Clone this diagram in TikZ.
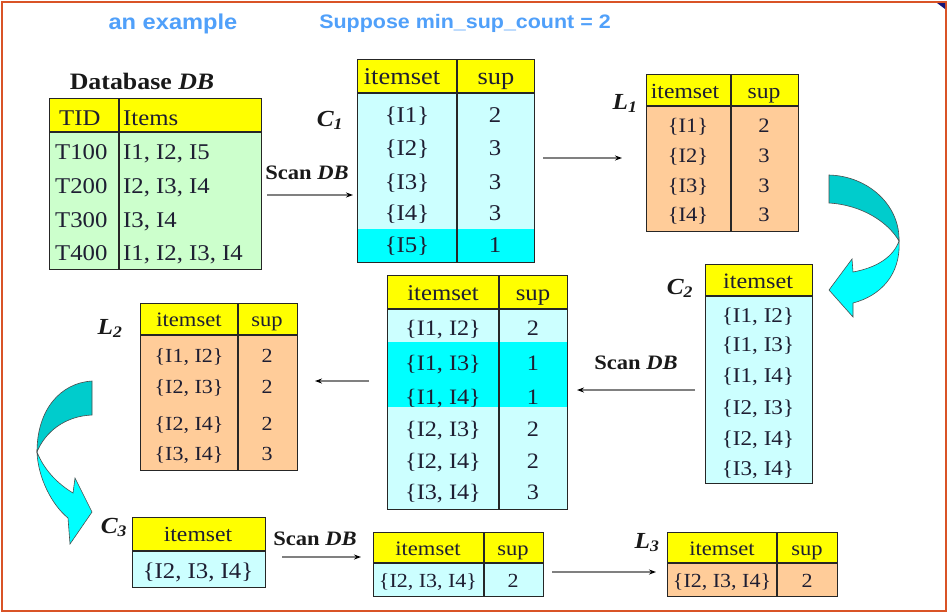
\documentclass[tikz,border=0pt]{standalone}
\usepackage{fontspec}
\setmainfont{Liberation Serif}
\newfontfamily\bluefont{Liberation Sans}
\usepackage{graphicx}
\usetikzlibrary{arrows.meta}
\definecolor{hdr}{RGB}{255,255,0}
\definecolor{dbg}{RGB}{204,255,204}
\definecolor{cbg}{RGB}{204,255,255}
\definecolor{hil}{RGB}{0,255,255}
\definecolor{lbg}{RGB}{255,204,153}
\definecolor{frameorange}{RGB}{217,83,38}
\definecolor{titleblue}{RGB}{80,160,250}
\definecolor{darkteal}{RGB}{0,204,204}
\definecolor{linegray}{RGB}{128,128,128}
\definecolor{txt}{RGB}{30,30,50}
\definecolor{navy}{RGB}{20,20,120}
\newcommand{\stx}[1]{\scalebox{1.1}[1]{#1}}
\tikzset{
  tframe/.style={draw=black!85, line width=1.3pt, inner sep=0pt, anchor=north west},
  tline/.style={draw=black!85, line width=1.1pt},
  cell/.style={font=\fontsize{#1}{#1}\selectfont, inner sep=0pt, anchor=mid, text=txt, yshift=-3pt},
  cell/.default=22,
  lcell/.style={cell=#1, anchor=mid west},
  lbl/.style={font=\fontsize{23}{26}\selectfont\bfseries\itshape, inner sep=0pt, anchor=base, text=black!90},
  scan/.style={font=\fontsize{20.5}{24}\selectfont\bfseries, inner sep=0pt, anchor=base, text=black!90},
  title/.style={font=\bluefont\bfseries\fontsize{#1}{#1}\selectfont, inner sep=0pt, anchor=base, text=titleblue},
  arr/.style={draw=linegray, line width=1.2pt, -{Stealth[color=black, length=7pt, width=5pt]}},
  curlback/.style={fill=darkteal, draw=black!70, line width=0.6pt},
  curlfront/.style={fill=hil, draw=black!70, line width=0.6pt},
}
\begin{document}
\begin{tikzpicture}[x=1pt,y=-1pt]
\useasboundingbox (0,0) rectangle (949,614);
\fill[white] (0,0) rectangle (949,614);
\draw[frameorange, line width=2.5pt] (2,2) rectangle (946,611);
\fill[navy] (937,3) -- (945,3) -- (945,9) -- cycle;

% titles
\node[title=21.5] (t1) at (173,29) {\stx{an example}};
\node[title=19.5] (t2) at (465,28) {\stx{Suppose min\_sup\_count = 2}};

% ---------------- Database DB
\node[font=\fontsize{23.5}{26}\selectfont\bfseries, inner sep=0pt, anchor=base, text=black!90] (dbt) at (142,89) {\stx{Database \textit{DB}}};
\fill[hdr] (49,98) rectangle (261,132);
\fill[dbg] (49,132) rectangle (261,269);
\draw[tline] (49,132) -- (261,132) (119,98) -- (119,269);
\node[tframe, minimum width=212pt, minimum height=171pt] (db) at (49,98) {};
\node[lcell=22.5] (dbh1) at (59,120) {\stx{TID}};
\node[lcell=22.5] (dbh2) at (123,120) {\stx{Items}};
\node[lcell=22.5] (dbr1a) at (55,154) {\stx{T100}};
\node[lcell=22.5] (dbr1b) at (123,154) {\stx{I1, I2, I5}};
\node[lcell=22.5] (dbr2a) at (55,188) {\stx{T200}};
\node[lcell=22.5] (dbr2b) at (123,188) {\stx{I2, I3, I4}};
\node[lcell=22.5] (dbr3a) at (55,222) {\stx{T300}};
\node[lcell=22.5] (dbr3b) at (123,222) {\stx{I3, I4}};
\node[lcell=22.5] (dbr4a) at (55,255) {\stx{T400}};
\node[lcell=22.5] (dbr4b) at (123,255) {\stx{I1, I2, I3, I4}};

% ---------------- C1
\node[lbl] (lc1) at (330,126) {\stx{C\textsubscript{1}}};
\node[scan] (scan1) at (307,179) {\stx{Scan \textit{DB}}};
\fill[hdr] (357,59) rectangle (534,93);
\fill[cbg] (357,93) rectangle (534,229);
\fill[hil] (357,229) rectangle (534,262);
\draw[tline] (357,93) -- (534,93) (457,59) -- (457,262);
\node[tframe, minimum width=177pt, minimum height=203pt] (c1) at (357,59) {};
\node[cell=24] (c1h1) at (402,79) {\stx{itemset}};
\node[cell=24] (c1h2) at (496,79) {\stx{sup}};
\foreach \i/\s/\y in {1/2/117,2/3/150,3/3/184,4/3/215,5/1/247}{
  \node[cell=22.5] (c1a\i) at (407,\y) {\stx{\{I\i\}}};
  \node[cell=22.5] (c1b\i) at (495,\y) {\stx{\s}};
}

% ---------------- L1
\node[lbl] (ll1) at (625,109) {\stx{L\textsubscript{1}}};
\fill[hdr] (646,74) rectangle (798,106);
\fill[lbg] (646,106) rectangle (798,231);
\draw[tline] (646,106) -- (798,106) (731,74) -- (731,231);
\node[tframe, minimum width=152pt, minimum height=157pt] (l1) at (646,74) {};
\node[cell=21.5] (l1h1) at (685,93) {\stx{itemset}};
\node[cell=21.5] (l1h2) at (764,93) {\stx{sup}};
\foreach \i/\s/\y in {1/2/127,2/3/157,3/3/187,4/3/216}{
  \node[cell=20.5] (l1a\i) at (688,\y) {\stx{\{I\i\}}};
  \node[cell=20.5] (l1b\i) at (764,\y) {\stx{\s}};
}

% ---------------- C2
\node[lbl] (lc2) at (680,294) {\stx{C\textsubscript{2}}};
\fill[hdr] (705,264) rectangle (812,296);
\fill[cbg] (705,296) rectangle (812,483);
\draw[tline] (705,296) -- (812,296);
\node[tframe, minimum width=107pt, minimum height=219pt] (c2) at (705,264) {};
\node[cell=22] (c2h) at (758,283) {\stx{itemset}};
\foreach \t/\y [count=\k] in {{I1, I2}/317,{I1, I3}/346,{I1, I4}/377,{I2, I3}/409,{I2, I4}/440,{I3, I4}/470}{
  \node[cell=21] (c2r\k) at (758,\y) {\stx{\{\t\}}};
}

% ---------------- C2 scanned
\node[scan] (scan2) at (636,369) {\stx{Scan \textit{DB}}};
\fill[hdr] (387,275) rectangle (567,309);
\fill[cbg] (387,309) rectangle (567,509);
\fill[hil] (387,342) rectangle (567,407);
\draw[tline] (387,309) -- (567,309) (499,275) -- (499,509);
\node[tframe, minimum width=180pt, minimum height=234pt] (c2s) at (387,275) {};
\node[cell=22.5] (c2sh1) at (443,295) {\stx{itemset}};
\node[cell=22.5] (c2sh2) at (533,295) {\stx{sup}};
\foreach \t/\s/\y [count=\k] in {{I1, I2}/2/330,{I1, I3}/1/365,{I1, I4}/1/399,{I2, I3}/2/431,{I2, I4}/2/463,{I3, I4}/3/494}{
  \node[cell=22] (c2sa\k) at (443,\y) {\stx{\{\t\}}};
  \node[cell=22] (c2sb\k) at (533,\y) {\stx{\s}};
}

% ---------------- L2
\node[lbl] (ll2) at (110,334) {\stx{L\textsubscript{2}}};
\fill[hdr] (140,303) rectangle (297,335);
\fill[lbg] (140,335) rectangle (297,470);
\draw[tline] (140,335) -- (297,335) (238,303) -- (238,470);
\node[tframe, minimum width=157pt, minimum height=167pt] (l2) at (140,303) {};
\node[cell=20.5] (l2h1) at (189,321) {\stx{itemset}};
\node[cell=20.5] (l2h2) at (267,321) {\stx{sup}};
\foreach \t/\s/\y [count=\k] in {{I1, I2}/2/357,{I2, I3}/2/388,{I2, I4}/2/425,{I3, I4}/3/455}{
  \node[cell=20] (l2a\k) at (189,\y) {\stx{\{\t\}}};
  \node[cell=20] (l2b\k) at (267,\y) {\stx{\s}};
}

% ---------------- C3
\node[lbl] (lc3) at (114,533) {\stx{C\textsubscript{3}}};
\fill[hdr] (132,517) rectangle (265,551);
\fill[cbg] (132,551) rectangle (265,587);
\draw[tline] (132,551) -- (265,551);
\node[tframe, minimum width=133pt, minimum height=70pt] (c3) at (132,517) {};
\node[cell=21.5] (c3h) at (198,536) {\stx{itemset}};
\node[cell=22.5] (c3r) at (198,573) {\stx{\{I2, I3, I4\}}};

% ---------------- C3 scanned
\node[scan] (scan3) at (315,545) {\stx{Scan \textit{DB}}};
\fill[hdr] (373,532) rectangle (543,563);
\fill[cbg] (373,563) rectangle (543,596);
\draw[tline] (373,563) -- (543,563) (484,532) -- (484,596);
\node[tframe, minimum width=170pt, minimum height=64pt] (c3s) at (373,532) {};
\node[cell=20.5] (c3sh1) at (428,550) {\stx{itemset}};
\node[cell=20.5] (c3sh2) at (513,550) {\stx{sup}};
\node[cell=20] (c3sa) at (428,582) {\stx{\{I2, I3, I4\}}};
\node[cell=20] (c3sb) at (513,582) {\stx{2}};

% ---------------- L3
\node[lbl] (ll3) at (647,548) {\stx{L\textsubscript{3}}};
\fill[hdr] (667,532) rectangle (837,563);
\fill[lbg] (667,563) rectangle (837,596);
\draw[tline] (667,563) -- (837,563) (777,532) -- (777,596);
\node[tframe, minimum width=170pt, minimum height=64pt] (l3) at (667,532) {};
\node[cell=20.5] (l3h1) at (722,550) {\stx{itemset}};
\node[cell=20.5] (l3h2) at (807,550) {\stx{sup}};
\node[cell=20] (l3a) at (722,582) {\stx{\{I2, I3, I4\}}};
\node[cell=20] (l3b) at (807,582) {\stx{2}};

% ---------------- straight arrows
\coordinate (a1s) at (267,195); \coordinate (a1e) at (353,195);
\coordinate (a2s) at (543,158); \coordinate (a2e) at (622,158);
\coordinate (a3s) at (695,390); \coordinate (a3e) at (577,390);
\coordinate (a4s) at (369,381); \coordinate (a4e) at (315,381);
\coordinate (a5s) at (282,557); \coordinate (a5e) at (361,557);
\coordinate (a6s) at (552,572); \coordinate (a6e) at (656,572);
\draw[arr] (a1s) -- (a1e);
\draw[arr] (a2s) -- (a2e);
\draw[arr] (a3s) -- (a3e);
\draw[arr] (a4s) -- (a4e);
\draw[arr] (a5s) -- (a5e);
\draw[arr] (a6s) -- (a6e);

% ---------------- curved arrow right (L1 -> C2)
\path[curlback] (829,175) .. controls (868,176) and (900,205) .. (899,241)
  .. controls (888,222) and (862,205) .. (829,203) -- cycle;
\path[curlfront] (899,241) .. controls (901,275) and (880,296) .. (853,303)
  -- (853,317) -- (829,290) -- (852,259) -- (853,272)
  .. controls (875,268) and (893,258) .. (899,241) -- cycle;

% ---------------- curved arrow left (L2 -> C3)
\path[curlback] (92,381) .. controls (60,383) and (37,410) .. (37,452)
  .. controls (45,432) and (65,416) .. (92,415) -- cycle;
\path[curlfront] (37,452) .. controls (38,478) and (52,505) .. (68,518)
  -- (70,544) -- (92,512) -- (75,478) -- (73,493)
  .. controls (58,484) and (44,470) .. (37,452) -- cycle;
\end{tikzpicture}
\end{document}
